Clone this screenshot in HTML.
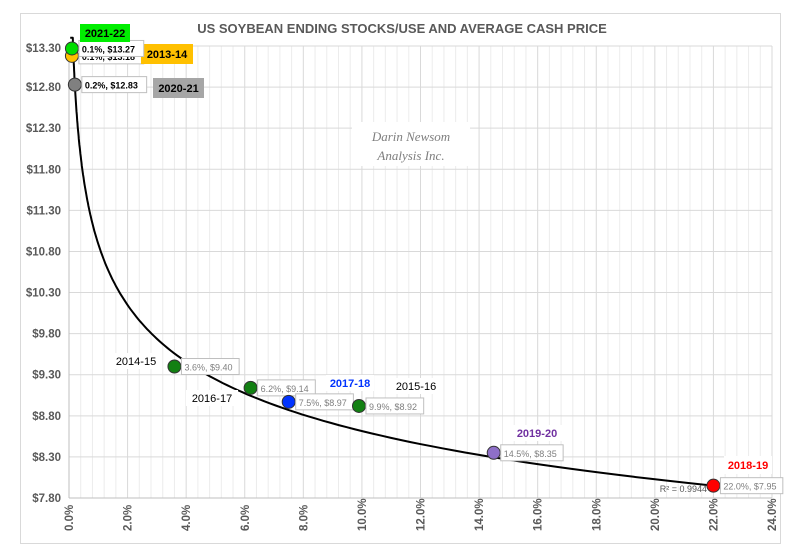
<!DOCTYPE html>
<html><head><meta charset="utf-8"><style>
body{margin:0;background:#fff;}
svg text{font-family:"Liberation Sans",sans-serif;}
</style></head><body>
<svg id="chart" width="792" height="554" xmlns="http://www.w3.org/2000/svg">
<rect x="20.5" y="13.5" width="760" height="530" fill="#fff" stroke="#d9d9d9"/>
<text x="402" y="33" text-anchor="middle" font-size="13" font-weight="bold" fill="#595959">US SOYBEAN ENDING STOCKS/USE AND AVERAGE CASH PRICE</text>
<g id="grid"></g><g id="axes"></g>
<g>
<rect x="352" y="122" width="118" height="44" fill="#fff"/>
<text x="411" y="141" text-anchor="middle" font-size="13" font-style="italic" fill="#7f7f7f" style="font-family:'Liberation Serif',serif">Darin Newsom</text>
<text x="411" y="160" text-anchor="middle" font-size="13" font-style="italic" fill="#7f7f7f" style="font-family:'Liberation Serif',serif">Analysis Inc.</text>
</g>
<path id="trend" fill="none" stroke="#000" stroke-width="2"/>
<g id="points"></g>
<text x="707" y="492" text-anchor="end" font-size="9" fill="#595959">R² = 0.9944</text>
</svg>
<script>
const years=["2021-22","2013-14","2020-21","2014-15","2016-17","2017-18","2015-16","2019-20","2018-19"];
const stocksUse=[0.1,0.1,0.2,3.6,6.2,7.5,9.9,14.5,22.0];
const prices=[13.27,13.18,12.83,9.40,9.14,8.97,8.92,8.35,7.95];
const yTicks=[7.80,8.30,8.80,9.30,9.80,10.30,10.80,11.30,11.80,12.30,12.80,13.30];
const xTicks=[0,2,4,6,8,10,12,14,16,18,20,22,24];
const trendA=10.89, trendB=-0.1018;
const colors=["#00dd00","#ffc000","#808080","#128012","#128012","#0033ff","#128012","#8e6fc8","#ff0000"];
const X=v=>69+v*(703/24), Y=v=>498-(v-7.8)*(452/5.5);
const NS="http://www.w3.org/2000/svg";
function mk(t,a,p){const e=document.createElementNS(NS,t);for(const k in a)e.setAttribute(k,a[k]);p.appendChild(e);return e;}
const grid=document.getElementById('grid'),axes=document.getElementById('axes');
for(let v=0;v<=24.001;v+=0.4){const l=mk('line',{x1:X(v),x2:X(v),y1:Y(13.3),y2:Y(7.8),stroke:Math.abs(v/2-Math.round(v/2))<0.01?'#d9d9d9':'#ececec'},grid);
}
yTicks.forEach(v=>{const l=mk('line',{x1:X(0),x2:X(24),y1:Y(v),y2:Y(v),stroke:'#d9d9d9'},grid);

const t=mk('text',{x:61,y:Y(v)+(v>13.2?6:4),'text-anchor':'end','font-size':'11.5','font-weight':'bold',fill:'#595959'},axes);t.textContent='$'+v.toFixed(2);
});
xTicks.forEach(v=>{const t=mk('text',{x:0,y:0,transform:`translate(${X(v)+4},${531}) rotate(-90)`,'font-size':'11.5','font-weight':'bold',fill:'#595959'},axes);t.textContent=v.toFixed(1)+'%';
});
mk('line',{x1:X(0),x2:X(0),y1:Y(13.3),y2:Y(7.8),stroke:'#bfbfbf'},axes);
mk('line',{x1:X(0),x2:X(24),y1:Y(7.8),y2:Y(7.8),stroke:'#bfbfbf'},axes);
let d='';for(let v=0.04;v<=22.001;v*=1.03){const y=Math.min(13.4,trendA*Math.pow(v,trendB));d+=(d?'L':'M')+X(v).toFixed(1)+','+Y(y).toFixed(1);}
d+='L'+X(22)+','+Y(trendA*Math.pow(22,trendB));
document.getElementById('trend').setAttribute('d',d);
const pts=document.getElementById('points');
const tag=[{x:80,y:24,w:50,h:18,bg:'#00ee00',c:'#000'},{x:141,y:44,w:52,h:20,bg:'#ffc000',c:'#000'},{x:153,y:78,w:51,h:20,bg:'#a6a6a6',c:'#000'},
{x:112,y:353,w:48,h:16,bg:'#fff',c:'#000'},{x:186,y:390,w:52,h:16,bg:'#fff',c:'#000'},{x:326,y:375,w:48,h:16,bg:'#fff',c:'#0033ff',bold:1},
{x:392,y:378,w:48,h:16,bg:'#fff',c:'#000'},{x:512,y:425,w:50,h:16,bg:'#fff',c:'#7030a0',bold:1},{x:724,y:456,w:48,h:18,bg:'#fff',c:'#ff0000',bold:1}];
const order=[1,2,3,4,5,6,7,8,0];
order.forEach(i=>{const cx=X(stocksUse[i]),cy=Y(prices[i]);
const c=mk('circle',{cx:cx,cy:cy,r:6.5,fill:colors[i],stroke:'#333','stroke-width':1},pts);

const txt=stocksUse[i].toFixed(1)+'%, $'+prices[i].toFixed(2);const bold=i<3;
const w=txt.length*(bold?4.9:4.7)+6;
const g=mk('g',{},pts);
mk('rect',{x:cx+7,y:cy-8,width:w,height:16,fill:'#fff',stroke:'#bfbfbf'},g);
const t=mk('text',{x:cx+10,y:cy+4,'font-size':'9','font-weight':bold?'bold':'normal',fill:bold?'#000':'#7f7f7f'},g);t.textContent=txt;
const T=tag[i];const tg=mk('g',{},pts);
mk('rect',{x:T.x,y:T.y,width:T.w,height:T.h,fill:T.bg},tg);
const tt=mk('text',{x:T.x+T.w/2,y:T.y+T.h/2+4,'text-anchor':'middle','font-size':'11','font-weight':(i<3||T.bold)?'bold':'normal',fill:T.c},tg);tt.textContent=years[i];
});
</script>
</body></html>
